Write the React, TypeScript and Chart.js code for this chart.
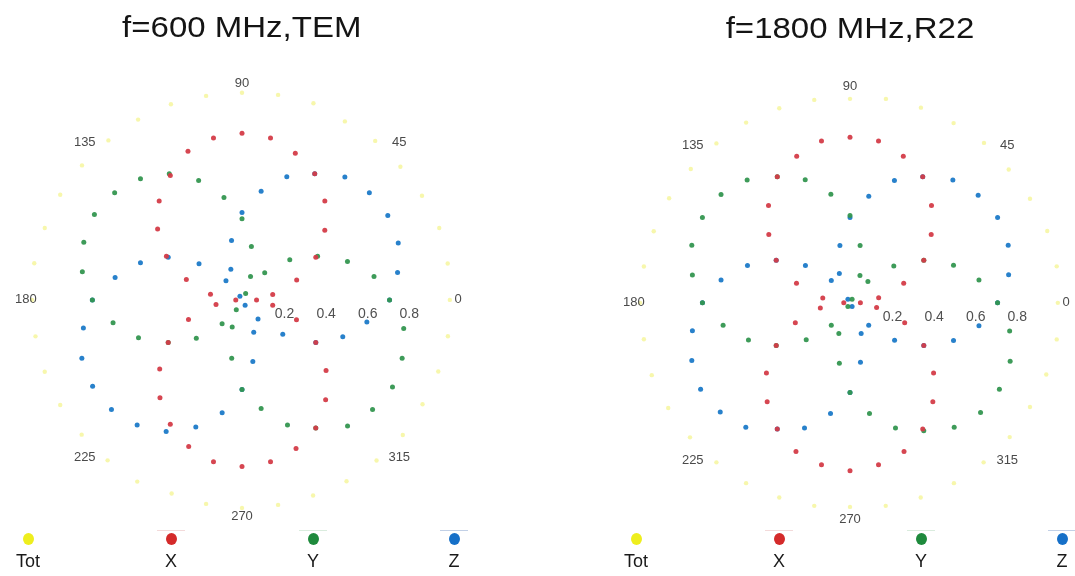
import React, { useEffect, useRef } from "react";
import { Chart, registerables } from "chart.js";

Chart.register(...registerables);

// ---- data (angles in degrees, radii) ----
const ANGLES = [0, 10, 20, 30, 40, 50, 60, 70, 80, 90, 100, 110, 120, 130, 140, 150, 160, 170,
  180, 190, 200, 210, 220, 230, 240, 250, 260, 270, 280, 290, 300, 310, 320, 330, 340, 350];

const TOT_600 = [1.0, 1.005, 1.01, 1.0, 0.995, 0.997, 0.99, 1.005, 1.0, 0.995, 0.995, 1.0, 1.0, 1.0,
  1.005, 1.01, 1.01, 1.015, 1.01, 1.009, 1.01, 1.01, 1.007, 1.006, 1.008, 0.99, 0.995, 1.0, 1.0,
  1.0, 1.006, 1.007, 1.01, 1.003, 1.005, 1.006];
const X_600 = [0.07, 0.15, 0.28, 0.41, 0.52, 0.62, 0.7, 0.75, 0.79, 0.8, 0.79, 0.76, 0.69, 0.62,
  0.53, 0.42, 0.285, 0.154, 0.03, 0.127, 0.274, 0.41, 0.517, 0.614, 0.69, 0.75, 0.79, 0.8, 0.79,
  0.76, 0.71, 0.626, 0.528, 0.41, 0.279, 0.15];
const Y_600 = [0.71, 0.645, 0.54, 0.42, 0.3, 0.17, 0.035, 0.12, 0.26, 0.39, 0.5, 0.61, 0.7, 0.76,
  0.8, 0.82, 0.81, 0.78, 0.72, 0.63, 0.53, 0.41, 0.287, 0.149, 0.055, 0.138, 0.285, 0.43, 0.53,
  0.64, 0.71, 0.79, 0.82, 0.836, 0.82, 0.79];
const Z_600 = [0.71, 0.76, 0.8, 0.81, 0.8, 0.77, 0.7, 0.63, 0.53, 0.42, 0.29, 0.157, 0.02, 0.12,
  0.27, 0.41, 0.52, 0.62, 0.72, 0.775, 0.82, 0.83, 0.82, 0.785, 0.73, 0.65, 0.55, 0.43, 0.3, 0.165,
  0.03, 0.12, 0.256, 0.41, 0.516, 0.61];

const TOT_1800 = [1.0, 1.01, 1.01, 1.0, 0.997, 1.003, 0.997, 0.998, 0.995, 0.98, 0.99, 0.995, 1.0,
  1.0, 1.0, 1.005, 1.005, 1.007, 1.01, 1.007, 1.015, 1.01, 1.005, 1.0, 1.0, 0.995, 0.99, 0.98,
  0.99, 0.995, 1.0, 1.0, 1.003, 1.0, 1.005, 1.01];
const X_1800 = [0.05, 0.14, 0.275, 0.41, 0.51, 0.61, 0.7, 0.75, 0.79, 0.795, 0.79, 0.75, 0.7, 0.61,
  0.51, 0.41, 0.274, 0.133, 0.03, 0.145, 0.28, 0.41, 0.525, 0.62, 0.7, 0.76, 0.79, 0.806, 0.79,
  0.76, 0.7, 0.62, 0.525, 0.41, 0.28, 0.13];
const Y_1800 = [0.71, 0.63, 0.53, 0.41, 0.275, 0.134, 0.02, 0.14, 0.28, 0.42, 0.53, 0.63, 0.7, 0.77,
  0.81, 0.82, 0.81, 0.77, 0.71, 0.62, 0.52, 0.41, 0.275, 0.14, 0.02, 0.157, 0.295, 0.43, 0.54,
  0.64, 0.71, 0.78, 0.82, 0.83, 0.82, 0.78];
const Z_1800 = [0.71, 0.775, 0.81, 0.82, 0.805, 0.77, 0.7, 0.625, 0.52, 0.41, 0.28, 0.15, 0.02, 0.14,
  0.28, 0.41, 0.525, 0.63, 0.71, 0.77, 0.81, 0.83, 0.815, 0.78, 0.7, 0.64, 0.54, 0.43, 0.29, 0.157,
  0.02, 0.14, 0.28, 0.41, 0.53, 0.63];

const RADIAL_TICKS = [0.2, 0.4, 0.6, 0.8];
const ANGLE_TICKS = [0, 45, 90, 135, 180, 225, 270, 315];
const SERIES_NAMES = ["Tot", "X", "Y", "Z"];

// ---- styles ----
const POINT_COLORS = ["rgba(238,238,70,0.45)", "rgba(212,60,72,0.95)", "rgba(52,150,80,0.95)", "rgba(28,122,200,0.95)"];
const LEGEND_COLORS = ["#eeee1e", "#d42a2a", "#1e8a3c", "#1670c8"];
const LEGEND_LINES = ["rgba(0,0,0,0)", "rgba(220,150,150,0.35)", "rgba(150,200,160,0.35)", "rgba(120,150,200,0.45)"];
const FONT = '"Liberation Sans", Arial, sans-serif';
const UNIT = 210; // pixels per unit radius
const PANEL_W = 484;
const PANEL_H = 576;

const toXY = (r: number[]) =>
  r.map((v, i) => ({
    x: v * Math.cos((ANGLES[i] * Math.PI) / 180),
    y: v * Math.sin((ANGLES[i] * Math.PI) / 180),
  }));

const polarLabels = {
  id: "polarLabels",
  afterDatasetsDraw(chart: any) {
    const { ctx, scales } = chart;
    const xs = scales.x;
    const ys = scales.y;
    ctx.save();
    ctx.font = `13px ${FONT}`;
    ctx.fillStyle = "#4a4a4a";
    ctx.textAlign = "center";
    ctx.textBaseline = "middle";
    ANGLE_TICKS.forEach((a) => {
      const r = a % 90 === 0 ? 1.04 : 1.07;
      const t = (a * Math.PI) / 180;
      ctx.fillText(String(a), xs.getPixelForValue(r * Math.cos(t)), ys.getPixelForValue(r * Math.sin(t)));
    });
    ctx.font = `14px ${FONT}`;
    ctx.fillStyle = "#505050";
    const y0 = ys.getPixelForValue(0) + 14;
    RADIAL_TICKS.forEach((v) => {
      ctx.fillText(v.toFixed(1), xs.getPixelForValue(v) + 1, y0);
    });
    ctx.restore();
  },
};

type PanelProps = {
  left: number;
  cx: number;
  cy: number;
  title: string;
  titleBase: number;
  series: number[][];
};

function PolarPanel({ left, cx, cy, title, titleBase, series }: PanelProps) {
  const ref = useRef<HTMLCanvasElement>(null);
  useEffect(() => {
    if (!ref.current) return;
    const chart = new Chart(ref.current, {
      type: "scatter",
      data: {
        datasets: series.map((s, i) => ({
          label: SERIES_NAMES[i],
          data: toXY(s),
          backgroundColor: POINT_COLORS[i],
          borderWidth: 0,
          pointRadius: i === 0 ? 2.2 : 2.5,
          pointHoverRadius: 2.5,
        })),
      },
      options: {
        responsive: false,
        animation: false,
        layout: { padding: 0 },
        plugins: { legend: { display: false }, title: { display: false }, tooltip: { enabled: false } },
        scales: {
          x: { type: "linear", display: false, min: -cx / UNIT, max: (PANEL_W - cx) / UNIT },
          y: { type: "linear", display: false, min: -(PANEL_H - cy) / UNIT, max: cy / UNIT },
        },
      },
      plugins: [polarLabels],
    });
    return () => chart.destroy();
  }, []);

  const legendOffsets = [-214, -71, 71, 212];
  return (
    <div style={{ position: "absolute", left, top: 0, width: PANEL_W, height: PANEL_H }}>
      <canvas ref={ref} width={PANEL_W} height={PANEL_H} style={{ position: "absolute", left: 0, top: 0, width: PANEL_W, height: PANEL_H }} />
      <div
        style={{
          position: "absolute",
          left: cx - 200,
          width: 400,
          top: titleBase - 25.4,
          textAlign: "center",
          font: `30px ${FONT}`,
          lineHeight: "30px",
          color: "#141414",
          whiteSpace: "nowrap",
        }}
      >
        <span style={{ display: "inline-block", transform: "scaleX(1.1)" }}>{title}</span>
      </div>
      {SERIES_NAMES.map((name, i) => (
        <React.Fragment key={name}>
          <div
            style={{
              position: "absolute",
              left: cx + legendOffsets[i] - 14,
              top: 530,
              width: 28,
              height: 1,
              background: LEGEND_LINES[i],
            }}
          />
          <div
            style={{
              position: "absolute",
              left: cx + legendOffsets[i] - 5.5,
              top: 533,
              width: 11,
              height: 12,
              borderRadius: "50%",
              background: LEGEND_COLORS[i],
            }}
          />
          <div
            style={{
              position: "absolute",
              left: cx + legendOffsets[i] - 30,
              width: 60,
              top: 552,
              textAlign: "center",
              font: `18px ${FONT}`,
              lineHeight: "18px",
              color: "#1a1a1a",
            }}
          >
            {name}
          </div>
        </React.Fragment>
      ))}
    </div>
  );
}

export default function App() {
  return (
    <div style={{ position: "fixed", left: 0, top: 0, width: 1075, height: 576, overflow: "hidden", background: "#ffffff" }}>
      <PolarPanel left={0} cx={242} cy={300} title="f=600 MHz,TEM" titleBase={37} series={[TOT_600, X_600, Y_600, Z_600]} />
      <PolarPanel left={608} cx={242} cy={303} title="f=1800 MHz,R22" titleBase={38} series={[TOT_1800, X_1800, Y_1800, Z_1800]} />
    </div>
  );
}
